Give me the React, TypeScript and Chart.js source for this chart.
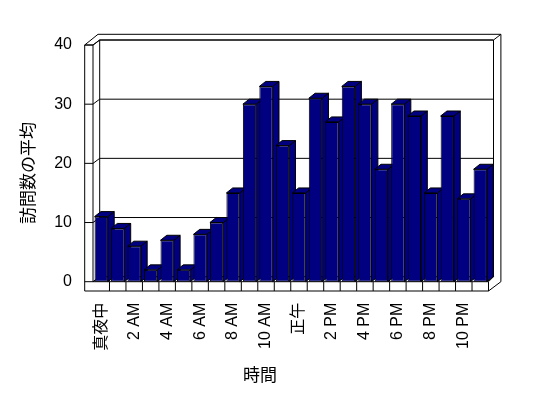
import React, { useEffect, useRef } from 'react';
import { Chart, registerables } from 'chart.js';

Chart.register(...registerables);

// ---- data ----
const hours = [
  '真夜中', '1 AM', '2 AM', '3 AM', '4 AM', '5 AM', '6 AM', '7 AM', '8 AM', '9 AM', '10 AM', '11 AM',
  '正午', '1 PM', '2 PM', '3 PM', '4 PM', '5 PM', '6 PM', '7 PM', '8 PM', '9 PM', '10 PM', '11 PM',
];
const avgVisits = [11, 9, 6, 2, 7, 2, 8, 10, 15, 30, 33, 23, 15, 31, 27, 33, 30, 19, 30, 28, 15, 28, 14, 19];
const yTicks = [0, 10, 20, 30, 40];
const yTitle = '訪問数の平均';
const xTitle = '時間';

// ---- style ----
const NAVY = '#000080';
const LATIN = '"Liberation Sans", "Noto Sans CJK JP", sans-serif';
const CJK = '"Noto Sans CJK JP", "Liberation Sans", sans-serif';

const frame3d = {
  id: 'frame3d',
  beforeDatasetsDraw(chart: any) {
    const { ctx, chartArea, scales } = chart;
    const { left: L, right: R, top: T, bottom: B } = chartArea;
    const ys = scales.y;
    const xs = scales.x;
    const dx = 6.7, dy = -5;
    const oL = L - 8.3, bL = L + dx, bR = R + 5, bT = T + dy, oT = T - 10.7, oR = R + 12.4, fB = B + 9.3, bB = B + dy;
    ctx.save();
    ctx.strokeStyle = '#000';
    ctx.lineWidth = 1;
    const poly = (pts: number[][], close = false) => {
      ctx.beginPath();
      ctx.moveTo(pts[0][0], pts[0][1]);
      for (let i = 1; i < pts.length; i++) ctx.lineTo(pts[i][0], pts[i][1]);
      if (close) ctx.closePath();
      ctx.stroke();
    };
    // outer silhouette
    poly([[oL, fB], [oL, T], [oL + 13.3, oT], [oR, oT], [oR, B], [R, fB]], true);
    // left wall front top + back wall inner top
    poly([[oL, T], [L, T], [bL, bT], [bR, bT], [oR, oT]]);
    // inner verticals
    poly([[L, T], [L, B]]);
    poly([[bL, bT], [bL, bB]]);
    poly([[bR, bT], [bR, bB]]);
    // floor
    poly([[L, B], [R, B], [R, fB]]);
    poly([[R, B], [bR, bB]]);
    // grid lines (left wall + back wall)
    yTicks.forEach((v) => {
      const yp = ys.getPixelForValue(v);
      poly([[oL, yp], [L, yp], [bL, yp + dy], [bR, yp + dy]]);
    });
    // floor category ticks
    for (let i = 1; i < hours.length; i++) {
      const xp = (xs.getPixelForValue(i - 1) + xs.getPixelForValue(i)) / 2;
      poly([[xp, B], [xp, fB]]);
    }
    // bar sides and tops
    const meta = chart.getDatasetMeta(0);
    const bdx = 6.3, bdy = -5;
    ctx.fillStyle = NAVY;
    meta.data.forEach((el: any) => {
      const { x, y, base, width } = el.getProps(['x', 'y', 'base', 'width'], true);
      const x0 = x - width / 2, x1 = x + width / 2;
      const side = [[x1, y], [x1 + bdx, y + bdy], [x1 + bdx, base + bdy], [x1, base]];
      const top = [[x0, y], [x1, y], [x1 + bdx, y + bdy], [x0 + bdx, y + bdy]];
      [side, top].forEach((p) => {
        ctx.beginPath();
        ctx.moveTo(p[0][0], p[0][1]);
        for (let i = 1; i < p.length; i++) ctx.lineTo(p[i][0], p[i][1]);
        ctx.closePath();
        ctx.fill();
        ctx.stroke();
      });
    });
    ctx.restore();
  },
  afterDraw(chart: any) {
    const { ctx } = chart;
    ctx.save();
    ctx.fillStyle = '#000';
    ctx.font = '17px ' + CJK;
    ctx.textAlign = 'center';
    ctx.textBaseline = 'middle';
    ctx.translate(28, 173);
    ctx.rotate(-Math.PI / 2);
    ctx.fillText(yTitle, 0, 0);
    ctx.restore();
    ctx.save();
    ctx.fillStyle = '#000';
    ctx.font = '17px ' + CJK;
    ctx.textAlign = 'center';
    ctx.textBaseline = 'middle';
    ctx.fillText(xTitle, 260, 375);
    ctx.restore();
  },
};

export default function App() {
  const ref = useRef<HTMLCanvasElement>(null);
  useEffect(() => {
    const chart = new Chart(ref.current as HTMLCanvasElement, {
      type: 'bar',
      data: {
        labels: hours,
        datasets: [
          {
            data: avgVisits,
            backgroundColor: NAVY,
            borderColor: '#000',
            borderWidth: 1,
            borderSkipped: false,
            barPercentage: 0.81,
            categoryPercentage: 1,
          },
        ],
      },
      options: {
        animation: false,
        responsive: false,
        events: [],
        layout: { padding: { top: 45, right: 59.5, left: 0, bottom: 0 } },
        plugins: { legend: { display: false }, tooltip: { enabled: false }, title: { display: false } },
        scales: {
          x: {
            grid: { display: false, drawTicks: false },
            border: { display: false },
            ticks: {
              autoSkip: false,
              minRotation: 90,
              maxRotation: 90,
              padding: 21,
              color: '#000',
              font: { family: LATIN, size: 16 },
              callback: (_v: any, i: number) => (i % 2 === 0 ? hours[i] : ''),
            },
            afterFit: (s: any) => {
              s.height = 116.3;
            },
          },
          y: {
            min: 0,
            max: 40,
            grid: { display: false, drawTicks: false },
            border: { display: false },
            ticks: { padding: 21, color: '#000', font: { family: LATIN, size: 16 } },
            afterBuildTicks: (s: any) => {
              s.ticks = yTicks.map((v) => ({ value: v }));
            },
            afterFit: (s: any) => {
              s.width = 93;
            },
          },
        },
      },
      plugins: [frame3d],
    } as any);
    return () => chart.destroy();
  }, []);
  return (
    <div style={{ position: 'absolute', left: 0, top: 0, width: 548, height: 398, background: '#fff' }}>
      <canvas ref={ref} width={548} height={398} style={{ display: 'block', width: 548, height: 398 }} />
    </div>
  );
}
